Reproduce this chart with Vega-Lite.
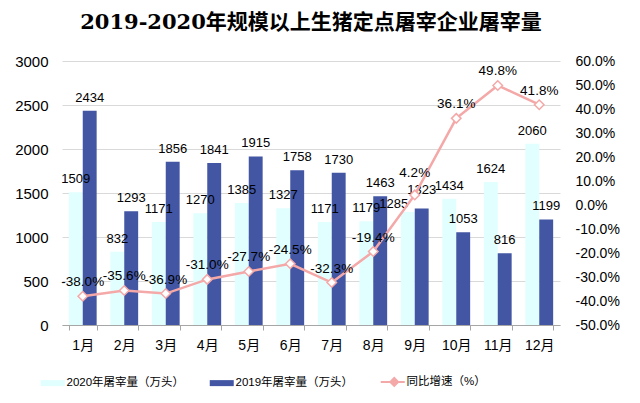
{
  "$schema": "https://vega.github.io/schema/vega-lite/v6.json",
  "width": 498,
  "height": 264,
  "padding": {"left": 14, "top": 12, "right": 5, "bottom": 5},
  "background": "white",
  "title": {
    "text": "2019-2020年规模以上生猪定点屠宰企业屠宰量",
    "fontSize": 21,
    "font": "DejaVu Serif, Noto Sans CJK SC",
    "fontWeight": "bold",
    "color": "#000000",
    "anchor": "middle",
    "offset": 21
  },
  "data": {
    "values": [
      {"month": "1月", "y2020": 1509, "y2019": 2434, "growth": -0.380},
      {"month": "2月", "y2020": 832, "y2019": 1293, "growth": -0.356},
      {"month": "3月", "y2020": 1171, "y2019": 1856, "growth": -0.369},
      {"month": "4月", "y2020": 1270, "y2019": 1841, "growth": -0.310},
      {"month": "5月", "y2020": 1385, "y2019": 1915, "growth": -0.277},
      {"month": "6月", "y2020": 1327, "y2019": 1758, "growth": -0.245},
      {"month": "7月", "y2020": 1171, "y2019": 1730, "growth": -0.323},
      {"month": "8月", "y2020": 1179, "y2019": 1463, "growth": -0.194},
      {"month": "9月", "y2020": 1285, "y2019": 1323, "growth": 0.042},
      {"month": "10月", "y2020": 1434, "y2019": 1053, "growth": 0.361},
      {"month": "11月", "y2020": 1624, "y2019": 816, "growth": 0.498},
      {"month": "12月", "y2020": 2060, "y2019": 1199, "growth": 0.418}
    ]
  },
  "encoding": {
    "x": {
      "field": "month",
      "type": "nominal",
      "sort": null,
      "title": null,
      "scale": {"paddingInner": 0.33, "paddingOuter": 0.165},
      "axis": {
        "labelAngle": 0,
        "labelFontSize": 14,
        "labelColor": "#000000",
        "labelPadding": 8,
        "tickBand": "extent",
        "tickColor": "#A6A6A6",
        "tickSize": 5,
        "domainColor": "#A6A6A6",
        "grid": false
      }
    }
  },
  "layer": [
    {
      "transform": [{"fold": ["y2020", "y2019"], "as": ["key", "value"]}],
      "encoding": {
        "y": {
          "field": "value",
          "type": "quantitative",
          "title": null,
          "scale": {"domain": [0, 3000], "nice": false},
          "axis": {
            "orient": "left",
            "values": [0, 500, 1000, 1500, 2000, 2500, 3000],
            "format": "d",
            "labelFontSize": 15,
            "labelColor": "#000000",
            "labelPadding": 14,
            "ticks": false,
            "domain": false,
            "gridColor": "#D9D9D9",
            "gridWidth": 1
          }
        },
        "xOffset": {"field": "key", "type": "nominal", "sort": ["y2020", "y2019"]}
      },
      "layer": [
        {
          "mark": {"type": "bar", "opacity": 1},
          "encoding": {
            "color": {
              "field": "key",
              "type": "nominal",
              "scale": {
                "domain": ["y2020", "y2019", "growth"],
                "range": ["#E2FFFF", "#4256A4", "#F4A8A8"]
              },
              "legend": {
                "orient": "none",
                "legendX": -24,
                "legendY": 315,
                "direction": "horizontal",
                "title": null,
                "labelFontSize": 11.5,
                "labelColor": "#000000",
                "symbolSize": 36,
                "symbolOpacity": 1,
                "labelOffset": 17,
                "columnPadding": 22,
                "labelExpr": "datum.value === 'y2020' ? '2020年屠宰量（万头）' : datum.value === 'y2019' ? '2019年屠宰量（万头）' : '同比增速（%）'",
                "encode": {
                  "symbols": {
                    "update": {
                      "shape": {"signal": "datum.value === 'growth' ? 'M-1,0H2.2M4.8,0H7M3.5,-1.3L4.8,0L3.5,1.3L2.2,0Z' : 'M-1,-1H7V1H-1Z'"},
                      "fill": {"signal": "datum.value === 'y2020' ? '#E2FFFF' : datum.value === 'y2019' ? '#4256A4' : '#FFFFFF'"},
                      "stroke": {"signal": "datum.value === 'growth' ? '#F4A8A8' : null"},
                      "strokeWidth": {"signal": "datum.value === 'growth' ? 2 : 0"},
                      "opacity": {"value": 1}
                    }
                  }
                }
              }
            }
          }
        },
        {
          "mark": {
            "type": "text",
            "baseline": "bottom",
            "dx": {"expr": "datum.key === 'y2020' && datum.month === '9月' ? -14 : 0"},
            "dy": {"expr": "datum.month === '9月' ? (datum.key === 'y2020' ? -1 : -12) : -6"},
            "fontSize": 13,
            "font": "Liberation Sans",
            "color": "#000000"
          },
          "encoding": {
            "text": {"field": "value", "type": "quantitative", "format": "d"}
          }
        }
      ]
    },
    {
      "encoding": {
        "y": {
          "field": "growth",
          "type": "quantitative",
          "title": null,
          "scale": {"domain": [-0.5, 0.6], "nice": false, "zero": false},
          "axis": {
            "orient": "right",
            "values": [-0.5, -0.4, -0.3, -0.2, -0.1, 0, 0.1, 0.2, 0.3, 0.4, 0.5, 0.6],
            "format": ".1%",
            "labelFontSize": 14,
            "labelColor": "#000000",
            "labelPadding": 15,
            "ticks": false,
            "domain": false,
            "grid": false
          }
        }
      },
      "layer": [
        {
          "mark": {"type": "line", "strokeWidth": 2.5, "color": "#F4A8A8"},
          "encoding": {"color": {"datum": "growth"}}
        },
        {
          "mark": {"type": "point", "shape": "diamond", "filled": true, "fill": "#FFFFFF", "stroke": "#F4A8A8", "strokeWidth": 1.5, "size": 90, "opacity": 1}
        },
        {
          "mark": {
            "type": "text",
            "baseline": "bottom",
            "dy": {"expr": "datum.month === '9月' ? -15 : -7"},
            "fontSize": 13.5,
            "font": "Liberation Sans",
            "color": "#000000"
          },
          "encoding": {"text": {"field": "growth", "type": "quantitative", "format": ".1%"}}
        }
      ]
    }
  ],
  "resolve": {"scale": {"y": "independent"}},
  "config": {
    "font": "Liberation Sans, Noto Sans CJK SC",
    "view": {"stroke": null},
    "locale": {
      "number": {
        "decimal": ".",
        "thousands": "",
        "grouping": [3],
        "currency": ["", ""],
        "minus": "-"
      }
    }
  }
}
